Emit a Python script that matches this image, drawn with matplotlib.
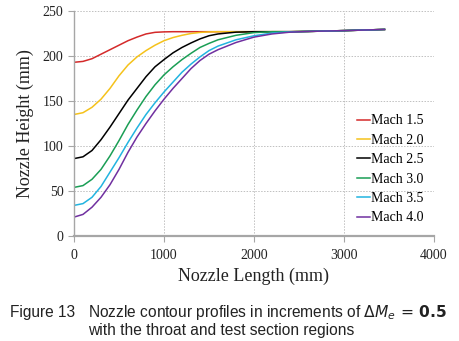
import matplotlib
matplotlib.use("Agg")
import matplotlib.pyplot as plt

# Data
x_mm = [0, 100, 200, 300, 400, 500, 600, 700, 800, 900, 1000, 1100, 1200, 1300,
        1400, 1500, 1600, 1800, 2000, 2200, 2400, 2600, 3000, 3450]
mach_15 = [193, 194, 197, 202, 207, 212, 217, 221, 224.5, 226.3, 226.8, 227, 227, 227,
           227, 227, 227, 227, 227, 227, 227, 227.3, 228.2, 229.5]
mach_20 = [135, 137, 143, 152, 164, 178, 190, 199, 206, 212, 217, 220.5, 223, 225,
           226.2, 226.8, 227, 227, 227, 227, 227, 227.3, 228.2, 229.5]
mach_25 = [86, 88, 95, 107, 121, 136, 151, 164, 177, 188, 196, 203.5, 209.5, 214.5,
           219, 222.5, 224.5, 226.5, 227, 227, 227, 227.3, 228.2, 229.5]
mach_30 = [54, 56, 63, 74, 89, 106, 124, 140, 155, 168, 179, 188, 196, 203,
           209.5, 214, 218, 223, 226, 227, 227, 227.3, 228.2, 229.5]
mach_35 = [34, 36, 43, 55, 71, 87, 104, 120, 135, 148, 160, 171, 182, 191,
           199, 206, 211, 218, 222.5, 225.5, 226.8, 227.3, 228.2, 229.5]
mach_40 = [21, 24, 32, 43, 57, 74, 93, 110, 125, 139, 152, 164, 175, 186,
           195, 202, 207, 215, 221, 224.5, 226.5, 227.3, 228.2, 229.5]

labels = ["Mach 1.5", "Mach 2.0", "Mach 2.5", "Mach 3.0", "Mach 3.5", "Mach 4.0"]
series = [mach_15, mach_20, mach_25, mach_30, mach_35, mach_40]
colors = ["#d42a2a", "#f5c21b", "#000000", "#1a9e55", "#22b4e0", "#7030a0"]

x_ticks = [0, 1000, 2000, 3000, 4000]
y_ticks = [0, 50, 100, 150, 200, 250]

fig = plt.figure(figsize=(4.6, 3.41), dpi=100)
ax = fig.add_axes([74/460, 1 - 236/341, 360/460, 225/341])

for ys, c, lab in zip(series, colors, labels):
    ax.plot(x_mm, ys, color=c, lw=1.1, label=lab)

ax.set_xlim(0, 4000)
ax.set_ylim(0, 250)
ax.set_xticks(x_ticks)
ax.set_yticks(y_ticks)
ax.grid(True, color="#c0c0c0", linestyle=(0, (1.5, 1.5)), lw=0.7)
ax.set_axisbelow(True)
for s in ["top", "right"]:
    ax.spines[s].set_visible(False)
ax.spines["left"].set_color("#a6a6a6")
ax.spines["left"].set_linewidth(1.0)
ax.spines["bottom"].set_color("#a6a6a6")
ax.spines["bottom"].set_linewidth(1.6)
ax.tick_params(axis="both", colors="#a6a6a6", length=4, width=0.8,
               labelcolor="#222222", labelsize=10)
ax.tick_params(axis="x", pad=5.5)
for t in ax.get_xticklabels() + ax.get_yticklabels():
    t.set_family("Liberation Serif")

ax.set_xlabel("Nozzle Length (mm)", family="Liberation Serif", fontsize=13,
              color="#222222", labelpad=4)
ax.set_ylabel("Nozzle Height (mm)", family="Liberation Serif", fontsize=13,
              color="#222222", labelpad=6)

leg = ax.legend(loc="lower right", bbox_to_anchor=(0.995, 0.0145), frameon=False,
                prop={"family": "Liberation Serif", "size": 10},
                handlelength=0.95, handletextpad=0.1, labelspacing=0.46,
                borderaxespad=0.2)

cap_fs = 11.2
fig.text(10/460, 1 - 313/341, "Figure 13", family="Liberation Sans", fontsize=cap_fs,
         va="center", ha="left", color="#222222")
fig.text(88/460, 1 - 313/341,
         "Nozzle contour profiles in increments of $\\Delta M_e\\,=\\,\\mathbf{0.5}$",
         family="Liberation Sans", fontsize=cap_fs, va="center", ha="left", color="#222222")
fig.text(88/460, 1 - 331/341, "with the throat and test section regions",
         family="Liberation Sans", fontsize=cap_fs, va="center", ha="left", color="#222222")

fig.savefig("out.png", dpi=100)
